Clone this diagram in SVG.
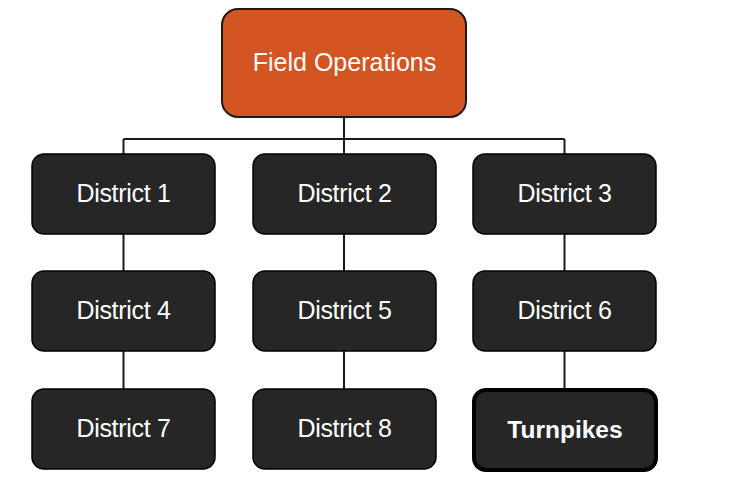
<svg xmlns="http://www.w3.org/2000/svg" width="731" height="477" viewBox="0 0 731 477">
<style>
.box{fill:#262626;stroke:#000;stroke-width:1.5}
.top{fill:#D35522;stroke:#1a1a1a;stroke-width:2}
.t{font-family:"Liberation Sans",Arial,sans-serif;font-size:25px;fill:#fff;text-anchor:middle}
.d{letter-spacing:-0.3px}
.b{font-weight:bold;font-size:24.5px}
.c{stroke:#1a1a1a;stroke-width:2;fill:none}
</style>
<rect width="731" height="477" fill="#fff"/>
<g id="connectors">
<path class="c" d="M344 117V154M123.5 139H564.5M123.5 139V154M564.5 139V154"/>
<path class="c" d="M123.5 234V271M344 234V271M564.5 234V271"/>
<path class="c" d="M123.5 351V389M344 351V389M564.5 351V388"/>
</g>
<g id="field-operations"><rect class="top" x="222" y="9" width="244" height="108" rx="16"/><text class="t" x="344.5" y="71">Field Operations</text></g>
<g id="district-1"><rect class="box" x="32" y="154" width="183" height="80" rx="12"/><text class="t d" x="123.5" y="202">District 1</text></g>
<g id="district-2"><rect class="box" x="253" y="154" width="183" height="80" rx="12"/><text class="t d" x="344.5" y="202">District 2</text></g>
<g id="district-3"><rect class="box" x="473" y="154" width="183" height="80" rx="12"/><text class="t d" x="564.5" y="202">District 3</text></g>
<g id="district-4"><rect class="box" x="32" y="271" width="183" height="80" rx="12"/><text class="t d" x="123.5" y="319">District 4</text></g>
<g id="district-5"><rect class="box" x="253" y="271" width="183" height="80" rx="12"/><text class="t d" x="344.5" y="319">District 5</text></g>
<g id="district-6"><rect class="box" x="473" y="271" width="183" height="80" rx="12"/><text class="t d" x="564.5" y="319">District 6</text></g>
<g id="district-7"><rect class="box" x="32" y="389" width="183" height="80" rx="12"/><text class="t d" x="123.5" y="437">District 7</text></g>
<g id="district-8"><rect class="box" x="253" y="389" width="183" height="80" rx="12"/><text class="t d" x="344.5" y="437">District 8</text></g>
<g id="turnpikes"><rect x="474" y="390" width="182" height="80" rx="12" fill="#262626" stroke="#000" stroke-width="4"/><text class="t b" x="565" y="438">Turnpikes</text></g>
</svg>
